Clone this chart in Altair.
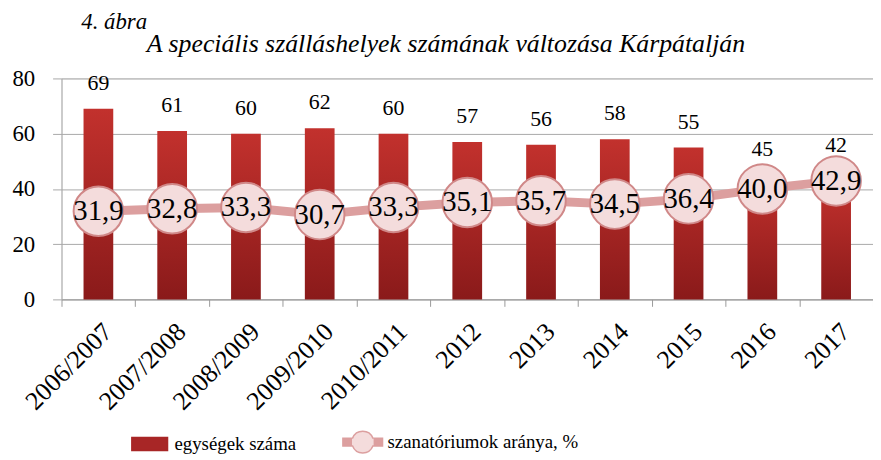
import altair as alt
import pandas as pd

categories = ["2006/2007", "2007/2008", "2008/2009", "2009/2010", "2010/2011",
              "2012", "2013", "2014", "2015", "2016", "2017"]
units = [69, 61, 60, 62, 60, 57, 56, 58, 55, 45, 42]
share = [31.9, 32.8, 33.3, 30.7, 33.3, 35.1, 35.7, 34.5, 36.4, 40.0, 42.9]
series_names = ["egységek száma", "szanatóriumok aránya, %"]
fig_label = "4. ábra"
heading = "A speciális szálláshelyek számának változása Kárpátalján"

FONT = "Liberation Serif"
RED = "#a82626"
PINK = "#dc9f9f"
LIGHT = "#f4dcdc"

df = pd.DataFrame({"cat": categories, "units": units, "share": share,
                   "series": [series_names[1]] * len(categories)})

xenc = alt.X("cat:N", sort=categories,
             scale=alt.Scale(domain=categories, paddingInner=0, paddingOuter=0),
             axis=alt.Axis(title=None, labelAngle=-45, labelAlign="right", labelBaseline="top",
                           labelFont=FONT, labelFontSize=26, labelColor="#000", labelPadding=12,
                           tickBand="extent", tickSize=7, tickColor="#9a9a9a",
                           domainColor="#9a9a9a", grid=False, labelLimit=300))
yscale = alt.Scale(domain=[0, 80])
yaxis = alt.Axis(title=None, values=[0, 20, 40, 60, 80], grid=True, gridColor="#a8a8a8",
                 tickSize=9, tickColor="#a8a8a8", domainColor="#a8a8a8", labelPadding=18,
                 labelFont=FONT, labelFontSize=23, labelColor="#000")

base = alt.Chart(df)

grad = alt.Gradient(gradient="linear", x1=0, x2=0, y1=0, y2=1,
                    stops=[alt.GradientStop(color="#c2312d", offset=0),
                           alt.GradientStop(color="#8a1a1a", offset=1)])

bars = base.mark_bar(fill=grad, size=30).encode(
    x=xenc, y=alt.Y("units:Q", scale=yscale, axis=yaxis))

# bar labels sit above the bar, or above the marker circle when it would cover them
bar_labels = base.mark_text(font=FONT, fontSize=22, color="#000", baseline="alphabetic", dy=-19).transform_calculate(
    ly="max(datum.units, datum.share + 3.7)").encode(
    x=alt.X("cat:N", sort=categories), y=alt.Y("ly:Q"), text="units:Q")

sym_shape = ("datum.value == 'egységek száma' ? 'M-0.9,-0.33H0.9V0.33H-0.9Z' : "
             "'M-1,-0.2H-0.512A0.55,0.55 0 0 1 0.512,-0.2H1V0.2H0.512A0.55,0.55 0 0 1 -0.512,0.2H-1Z'")
sym_fill = ("datum.value == 'egységek száma' ? '%s' : "
            "{gradient: 'linear', x1: 0, y1: 0, x2: 1, y2: 0, stops: ["
            "{offset: 0, color: '%s'}, {offset: 0.225, color: '%s'}, {offset: 0.23, color: '%s'},"
            "{offset: 0.77, color: '%s'}, {offset: 0.775, color: '%s'}, {offset: 1, color: '%s'}]}"
            % (RED, PINK, PINK, LIGHT, LIGHT, PINK, PINK))
sym_stroke = "datum.value == 'egységek száma' ? '%s' : '#d08888'" % RED

line = base.mark_line(strokeWidth=9).encode(
    x=alt.X("cat:N", sort=categories), y=alt.Y("share:Q"),
    color=alt.Color("series:N", scale=alt.Scale(domain=series_names, range=[RED, PINK]),
                    legend=alt.Legend(orient="none", legendX=68, legendY=346, direction="horizontal",
                                      title=None, labelFont=FONT, labelFontSize=19, labelColor="#000",
                                      symbolSize=1600, labelOffset=4, columnPadding=44,
                                      labelLimit=400,
                                      symbolType=alt.ExprRef(expr=sym_shape),
                                      symbolFillColor=alt.ExprRef(expr=sym_fill),
                                      symbolStrokeColor=alt.ExprRef(expr=sym_stroke),
                                      symbolStrokeWidth=1.5, symbolOpacity=1)))

circles = base.mark_point(shape="circle", filled=True, size=2500, fill=LIGHT, stroke="#d08888",
                          strokeWidth=2, opacity=1).encode(
    x=alt.X("cat:N", sort=categories), y=alt.Y("share:Q"))

circle_labels = base.mark_text(font=FONT, fontSize=29, color="#000", baseline="middle").transform_calculate(
    lab="replace(format(datum.share, '.1f'), '.', ',')").encode(
    x=alt.X("cat:N", sort=categories), y=alt.Y("share:Q"), text="lab:N")

t1 = alt.Chart(pd.DataFrame({"t": [fig_label]})).mark_text(
    font=FONT, fontSize=23, fontStyle="italic", align="left", baseline="alphabetic", color="#000").encode(
    x=alt.value(20), y=alt.value(-50), text="t:N")
t2 = alt.Chart(pd.DataFrame({"t": [heading]})).mark_text(
    font=FONT, fontSize=26, fontStyle="italic", align="center", baseline="alphabetic", color="#000").encode(
    x=alt.value(388), y=alt.value(-27), text="t:N")

chart = alt.layer(bars, bar_labels, line, circles, circle_labels, t1, t2).properties(
    width=819, height=223, autosize="none",
    padding={"left": 54, "top": 69, "right": 0, "bottom": 160}
).configure_view(stroke=None).configure(background="white")

chart.save("out.html", embed_options={"renderer": "svg", "actions": False})
